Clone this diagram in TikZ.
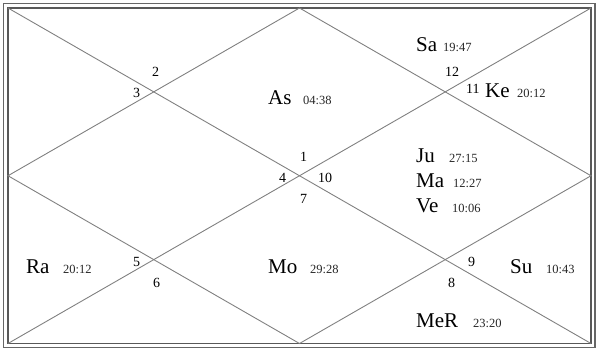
\documentclass[tikz,border=0pt]{standalone}
\usepackage{fontspec}
\setmainfont{Liberation Serif}
\begin{document}
\begin{tikzpicture}[x=1pt,y=-1pt,
  planet/.style={anchor=base west, inner sep=0pt, font=\fontsize{21}{25}\selectfont},
  deg/.style={anchor=base west, inner sep=0pt, text=black!85, font=\fontsize{12.5}{15}\selectfont},
  hnum/.style={anchor=base west, inner sep=0pt, font=\fontsize{14}{16}\selectfont},
  chartline/.style={draw=black!50, line width=0.9pt},
  outerframe/.style={draw=black!60, line width=1.6pt},
  innerframe/.style={draw=black!65, line width=1.1pt}]
\useasboundingbox (0,0) rectangle (598,350);
\draw[outerframe] (3.5,3.5) rectangle (595,347.5);
\draw[innerframe] (8,8) rectangle (591,343.5);
\coordinate (tl) at (8,8);
\coordinate (tr) at (591,8);
\coordinate (br) at (591,343.5);
\coordinate (bl) at (8,343.5);
\coordinate (t) at (299.5,8);
\coordinate (r) at (591,175.75);
\coordinate (b) at (299.5,343.5);
\coordinate (l) at (8,175.75);
\draw[chartline] (tl) -- (br);
\draw[chartline] (tr) -- (bl);
\draw[chartline] (t) -- (r) -- (b) -- (l) -- cycle;
% house numbers
\node[hnum] (h1) at (300,162) {1};
\node[hnum] (h2) at (152,77) {2};
\node[hnum] (h3) at (133,98) {3};
\node[hnum] (h4) at (279,183) {4};
\node[hnum] (h5) at (133,267) {5};
\node[hnum] (h6) at (153,288) {6};
\node[hnum] (h7) at (300,204) {7};
\node[hnum] (h8) at (448,288) {8};
\node[hnum] (h9) at (468,267) {9};
\node[hnum] (h10) at (318,183) {10};
\node[hnum] (h11) at (466,94) {11};
\node[hnum] (h12) at (445,77) {12};
% planets
\node[planet] (as) at (268,105) {As};
\node[deg] (asd) at (303,105) {04:38};
\node[planet] (sa) at (416,52) {Sa};
\node[deg] (sad) at (443,52) {19:47};
\node[planet] (ke) at (485,98) {Ke};
\node[deg] (ked) at (517,98) {20:12};
\node[planet] (ju) at (416,163) {Ju};
\node[deg] (jud) at (449,163) {27:15};
\node[planet] (ma) at (416,188) {Ma};
\node[deg] (mad) at (453,188) {12:27};
\node[planet] (ve) at (416,213) {Ve};
\node[deg] (ved) at (452,213) {10:06};
\node[planet] (ra) at (26,274) {Ra};
\node[deg] (rad) at (63,274) {20:12};
\node[planet] (mo) at (268,273) {Mo};
\node[deg] (mod) at (310,273) {29:28};
\node[planet] (su) at (510,274) {Su};
\node[deg] (sud) at (546,274) {10:43};
\node[planet] (mer) at (416,327) {MeR};
\node[deg] (merd) at (473,327) {23:20};
\end{tikzpicture}
\end{document}
